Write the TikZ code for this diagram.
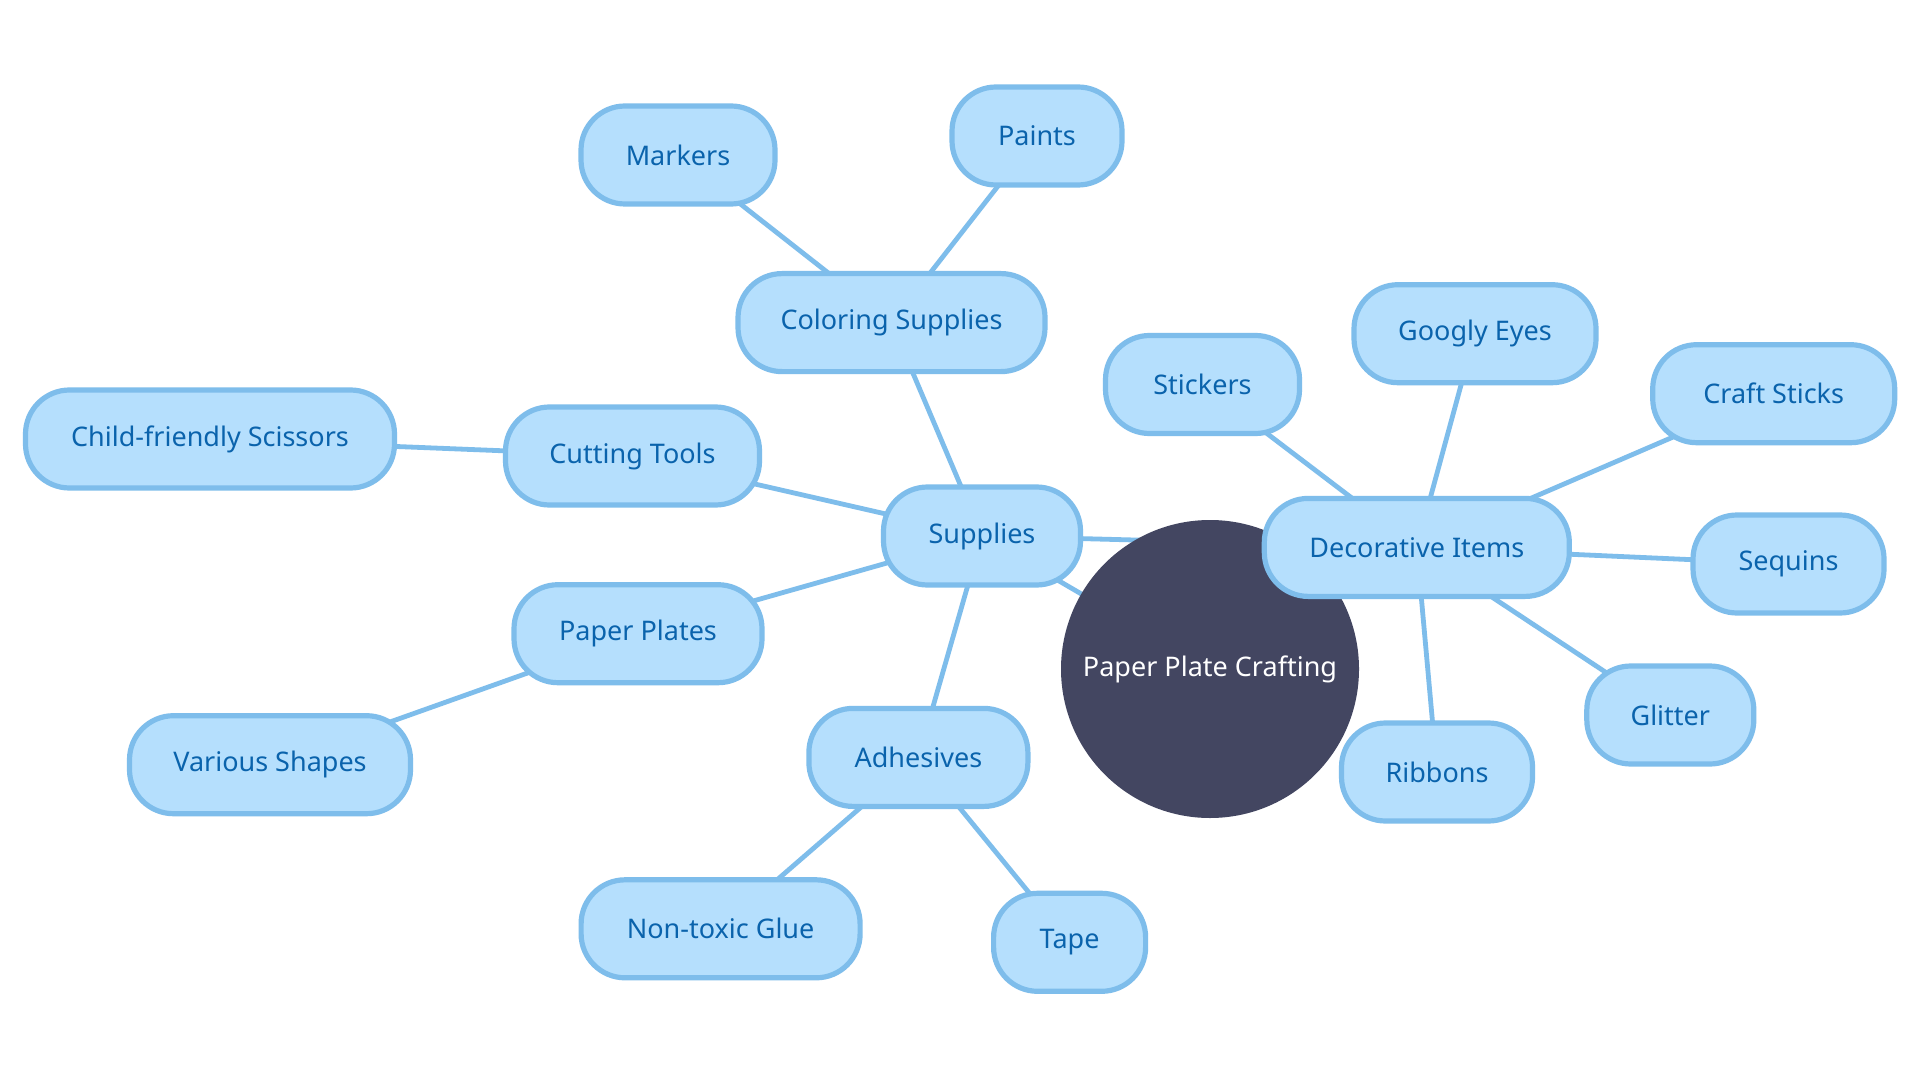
\documentclass[tikz,border=0pt]{standalone}
\usepackage{fontspec}
\setmainfont{Noto Sans}
\usetikzlibrary{backgrounds}
\definecolor{nfill}{HTML}{B5DFFD}
\definecolor{nborder}{HTML}{7EBDEB}
\definecolor{ntext}{HTML}{0A63AC}
\definecolor{rootc}{HTML}{434661}
\begin{document}
\begin{tikzpicture}[x=0.5pt,y=-0.5pt,
  leaf/.style={draw=nborder, line width=2.6pt, fill=nfill, text=ntext, rounded corners=22pt,
    minimum height=49pt, inner sep=0pt, font=\fontsize{13.5}{16}\selectfont},
  link/.style={draw=nborder, line width=2.4pt},
  rootnode/.style={circle, fill=rootc, minimum size=149pt, inner sep=0pt, text=white, font=\fontsize{13.5}{16}\selectfont}]
\useasboundingbox (0,0) rectangle (1920,1080);
\node[rootnode] (root) at (1210,669) {Paper Plate Crafting};
\node[leaf, minimum width=98.5pt] (sup) at (982,536) {Supplies};
\node[leaf, minimum width=153.5pt] (col) at (891.5,322.6) {Coloring Supplies};
\node[leaf, minimum width=97pt] (mark) at (678,155) {Markers};
\node[leaf, minimum width=85pt] (paint) at (1037,136) {Paints};
\node[leaf, minimum width=127pt] (cut) at (632.5,456) {Cutting Tools};
\node[leaf, minimum width=184.5pt] (sci) at (210,439) {Child-friendly Scissors};
\node[leaf, minimum width=124pt] (pp) at (638,633.7) {Paper Plates};
\node[leaf, minimum width=140.5pt] (var) at (270,764.7) {Various Shapes};
\node[leaf, minimum width=109.5pt] (adh) at (918.4,757.4) {Adhesives};
\node[leaf, minimum width=139.5pt] (glue) at (720.6,928.8) {Non-toxic Glue};
\node[leaf, minimum width=76pt] (tape) at (1069.6,942.3) {Tape};
\node[leaf, minimum width=152.5pt] (deco) at (1416.8,547.4) {Decorative Items};
\node[leaf, minimum width=97pt] (stick) at (1202.5,384.5) {Stickers};
\node[leaf, minimum width=121pt] (goog) at (1475,333.7) {Googly Eyes};
\node[leaf, minimum width=121pt] (craft) at (1773.7,393.7) {Craft Sticks};
\node[leaf, minimum width=95.5pt] (seq) at (1788.5,564) {Sequins};
\node[leaf, minimum width=83.5pt] (glit) at (1670.3,715) {Glitter};
\node[leaf, minimum width=95.5pt] (rib) at (1437,772) {Ribbons};
\begin{scope}[on background layer]
\fill[white] (0,0) rectangle (1920,1080);
\draw[link] (root.center) -- (sup.center);
\draw[link] (sup.center) -- (deco.center);
\draw[link] (sup.center) -- (col.center);
\draw[link] (col.center) -- (mark.center);
\draw[link] (col.center) -- (paint.center);
\draw[link] (sup.center) -- (cut.center);
\draw[link] (cut.center) -- (sci.center);
\draw[link] (sup.center) -- (pp.center);
\draw[link] (pp.center) -- (var.center);
\draw[link] (sup.center) -- (adh.center);
\draw[link] (adh.center) -- (glue.center);
\draw[link] (adh.center) -- (tape.center);
\draw[link] (deco.center) -- (stick.center);
\draw[link] (deco.center) -- (goog.center);
\draw[link] (deco.center) -- (craft.center);
\draw[link] (deco.center) -- (seq.center);
\draw[link] (deco.center) -- (glit.center);
\draw[link] (deco.center) -- (rib.center);
\end{scope}
\end{tikzpicture}
\end{document}
